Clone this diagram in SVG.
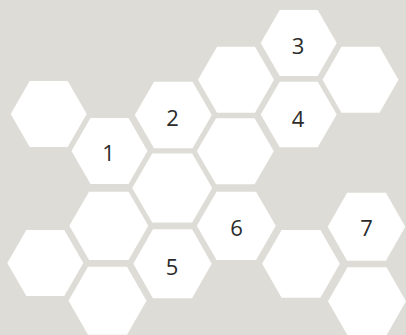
<svg xmlns="http://www.w3.org/2000/svg" width="406" height="335" viewBox="0 0 406 335">
<style>
.hex{fill:#ffffff;stroke:none}
.lbl{font-family:"Open Sans","Noto Sans","DejaVu Sans",sans-serif;font-size:22px;fill:#2b2b2b;text-anchor:middle}
</style>
<rect x="0" y="0" width="406" height="335" fill="#dedcd6"/>
<g id="hexA"><polygon class="hex" points="10.7,114 29.7,81 67.7,81 86.7,114 67.7,147 29.7,147"/></g>
<g id="hex1"><polygon class="hex" points="71.5,151 90.5,118 128.5,118 147.5,151 128.5,184 90.5,184"/><text class="lbl" x="108.5" y="160.7">1</text></g>
<g id="hex2"><polygon class="hex" points="134.8,115 154.05,81.7 192.55,81.7 211.8,115 192.55,148.3 154.05,148.3"/><text class="lbl" x="172.5" y="126">2</text></g>
<g id="hexB"><polygon class="hex" points="198,79.8 217,46.8 255,46.8 274,79.8 255,112.8 217,112.8"/></g>
<g id="hex3"><polygon class="hex" points="260.7,43 279.7,10 317.7,10 336.7,43 317.7,76 279.7,76"/><text class="lbl" x="298" y="54.3">3</text></g>
<g id="hexC"><polygon class="hex" points="322.5,79.7 341.5,46.7 379.5,46.7 398.5,79.7 379.5,112.7 341.5,112.7"/></g>
<g id="hex4"><polygon class="hex" points="260.7,114.5 279.7,81.7 317.7,81.7 336.7,114.5 317.7,147.3 279.7,147.3"/><text class="lbl" x="298" y="126.7">4</text></g>
<g id="hexD"><polygon class="hex" points="196.8,151.3 216.05,118.3 254.55,118.3 273.8,151.3 254.55,184.3 216.05,184.3"/></g>
<g id="hexE"><polygon class="hex" points="132.2,188 152.2,153.5 192.2,153.5 212.2,188 192.2,222.5 152.2,222.5"/></g>
<g id="hexF"><polygon class="hex" points="69.3,225.8 89.05,191.65 128.55,191.65 148.3,225.8 128.55,259.95 89.05,259.95"/></g>
<g id="hexG"><polygon class="hex" points="7.3,263 26.3,230 64.3,230 83.3,263 64.3,296 26.3,296"/></g>
<g id="hexH"><polygon class="hex" points="68.5,300.7 88,266.7 127,266.7 146.5,300.7 127,334.7 88,334.7"/></g>
<g id="hex5"><polygon class="hex" points="133.3,263.8 152.9,229.3 192.1,229.3 211.7,263.8 192.1,298.3 152.9,298.3"/><text class="lbl" x="172" y="275">5</text></g>
<g id="hex6"><polygon class="hex" points="196.8,225.8 216.55,191.65 256.05,191.65 275.8,225.8 256.05,259.95 216.55,259.95"/><text class="lbl" x="236.5" y="236">6</text></g>
<g id="hexI"><polygon class="hex" points="262.15,263.8 281.6,229.95 320.4,229.95 339.85,263.8 320.4,297.65 281.6,297.65"/></g>
<g id="hex7"><polygon class="hex" points="327.7,226.7 347.1,192.7 385.9,192.7 405.3,226.7 385.9,260.7 347.1,260.7"/><text class="lbl" x="366.5" y="236">7</text></g>
<g id="hexJ"><polygon class="hex" points="328,301.3 347.5,267.3 386.5,267.3 406,301.3 386.5,335.3 347.5,335.3"/></g>
</svg>
